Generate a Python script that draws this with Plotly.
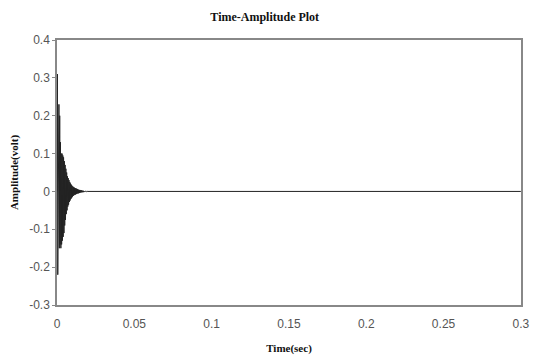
import plotly.graph_objects as go

time_s = [0.0, 0.00025, 0.0005, 0.00075, 0.001, 0.00125, 0.0015, 0.00175, 0.002, 0.00225,
          0.0025, 0.00275, 0.003, 0.00325, 0.0035, 0.00375, 0.004, 0.00425, 0.0045, 0.00475,
          0.005, 0.00525, 0.0055, 0.00575, 0.006, 0.00625, 0.0065, 0.00675, 0.007, 0.00725,
          0.0075, 0.00775, 0.008, 0.00825, 0.0085, 0.00875, 0.009, 0.00925, 0.0095, 0.00975,
          0.01, 0.01025, 0.0105, 0.01075, 0.011, 0.01125, 0.0115, 0.01175, 0.012, 0.01225,
          0.0125, 0.01275, 0.013, 0.01325, 0.0135, 0.01375, 0.014, 0.01425, 0.0145, 0.01475,
          0.015, 0.01525, 0.0155, 0.01575, 0.016, 0.01625, 0.0165, 0.01675, 0.017, 0.01725,
          0.0175, 0.01775, 0.018, 0.01825, 0.0185, 0.01875, 0.019, 0.01925, 0.0195, 0.01975,
          0.02, 0.3]
amplitude_v = [0.0, 0.31, -0.22, 0.12, -0.13, 0.23, -0.15, 0.2, -0.14, 0.13,
               -0.15, 0.1, -0.14, 0.1, -0.13, 0.095, -0.12, 0.09, -0.11, 0.08,
               -0.09, 0.07, -0.075, 0.06, -0.06, 0.05, -0.05, 0.04, -0.04, 0.035,
               -0.035, 0.03, -0.028, 0.025, -0.024, 0.021, -0.02, 0.018, -0.017, 0.015,
               -0.014, 0.013, -0.012, 0.011, -0.01, 0.01, -0.009, 0.009, -0.008, 0.008,
               -0.007, 0.007, -0.006, 0.006, -0.005, 0.005, -0.005, 0.004, -0.004, 0.004,
               -0.003, 0.003, -0.003, 0.003, -0.002, 0.002, -0.002, 0.002, -0.002, 0.001,
               -0.001, 0.001, -0.001, 0.001, -0.001, 0.001, -0.001, 0.0005, -0.0005, 0.0005,
               0.0, 0.0]

x_ticks = [0, 0.05, 0.1, 0.15, 0.2, 0.25, 0.3]
x_tick_labels = ["0", "0.05", "0.1", "0.15", "0.2", "0.25", "0.3"]
y_ticks = [-0.3, -0.2, -0.1, 0, 0.1, 0.2, 0.3, 0.4]
y_tick_labels = ["-0.3", "-0.2", "-0.1", "0", "0.1", "0.2", "0.3", "0.4"]

fig = go.Figure()
fig.add_trace(go.Scatter(x=time_s, y=amplitude_v, mode="lines",
                         line=dict(color="#222222", width=1), hoverinfo="skip"))

fig.update_layout(
    width=537, height=360,
    margin=dict(l=57, r=16, t=40, b=55, autoexpand=False),
    paper_bgcolor="white", plot_bgcolor="white",
    showlegend=False,
    title=dict(text="<b>Time-Amplitude Plot</b>", x=0.493, xanchor="center",
               y=0.952, yanchor="middle",
               font=dict(family="Liberation Serif", size=12, color="#111111")),
    xaxis=dict(range=[0, 0.3001], tickvals=x_ticks, ticktext=x_tick_labels,
               showgrid=False, zeroline=False, showline=True, mirror=True,
               linecolor="#888888", linewidth=1.5, ticks="", automargin=False,
               ticklabelstandoff=7,
               tickfont=dict(family="Liberation Sans", size=12, color="#555555"),
               title=dict(text="<b>Time(sec)</b>", standoff=14,
                          font=dict(family="Liberation Serif", size=11, color="#111111"))),
    yaxis=dict(range=[-0.3, 0.4], tickvals=y_ticks, ticktext=y_tick_labels,
               showgrid=False, zeroline=False, showline=True, mirror=True,
               linecolor="#888888", linewidth=1.5, ticks="outside", ticklen=3,
               tickcolor="#888888", automargin=False,
               tickfont=dict(family="Liberation Sans", size=12, color="#555555"),
               title=dict(text="<b>Amplitude(volt)</b>", standoff=8,
                          font=dict(family="Liberation Serif", size=11, color="#111111"))),
)

fig.write_html("out.html")
